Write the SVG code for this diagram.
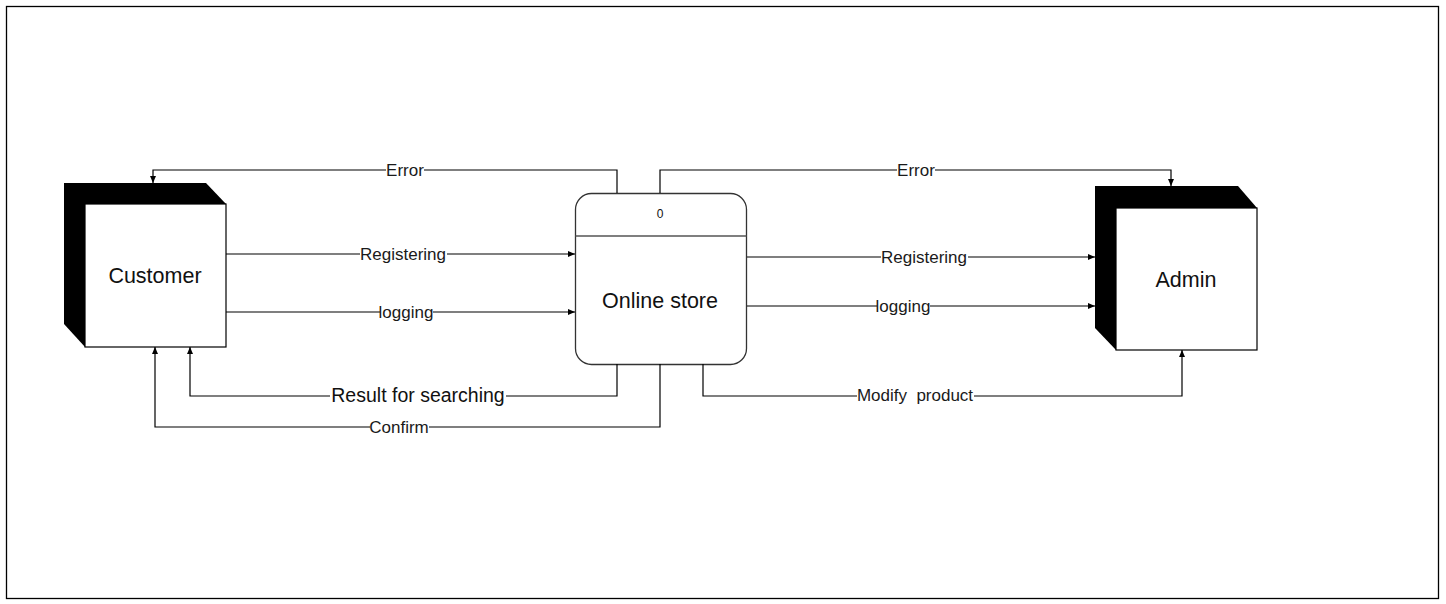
<svg xmlns="http://www.w3.org/2000/svg" width="1446" height="604" viewBox="0 0 1446 604">
<defs>
<marker id="arr" markerWidth="8" markerHeight="8" refX="7" refY="4" orient="auto" markerUnits="userSpaceOnUse">
<path d="M0,1 L7,4 L0,7 Z" fill="#000"/>
</marker>
<style>
.ln{fill:none;stroke:#000;stroke-width:1.2}
.lbl{font-family:"Liberation Sans",Arial,sans-serif;font-size:17px;fill:#1a1a1a;text-anchor:middle}
.big{font-family:"Liberation Sans",Arial,sans-serif;font-size:21.5px;fill:#111;text-anchor:middle}
.bg{fill:#fff}
</style>
</defs>
<rect x="0" y="0" width="1446" height="604" fill="#fff"/>
<rect x="6.5" y="6.5" width="1432" height="592" fill="#fff" stroke="#000" stroke-width="1.3"/>

<g id="customer">
<polygon points="64,183 206,183 226,204 226,347 85,347 64,324" fill="#000"/>
<rect x="85" y="204" width="141" height="143" fill="#fff" stroke="#000" stroke-width="1.2"/>
<text class="big" x="155" y="283">Customer</text>
</g>

<g id="online-store">
<rect x="575.5" y="193.5" width="171" height="171" rx="16" ry="16" fill="#fff" stroke="#333" stroke-width="1.3"/>
<line x1="575.5" y1="236" x2="746.5" y2="236" stroke="#555" stroke-width="1.5"/>
<text x="660" y="218" font-family="'Liberation Sans',Arial,sans-serif" font-size="12" fill="#111" text-anchor="middle">0</text>
<text class="big" x="660" y="308">Online store</text>
</g>

<g id="admin">
<polygon points="1095,186 1238,186 1257,208 1257,350 1116,350 1095,328" fill="#000"/>
<rect x="1116" y="208" width="141" height="142" fill="#fff" stroke="#000" stroke-width="1.2"/>
<text class="big" x="1186" y="287">Admin</text>
</g>

<g id="connectors">
<polyline class="ln" points="617,193 617,170 153,170 153,183" marker-end="url(#arr)"/>
<polyline class="ln" points="660,193 660,170 1171,170 1171,186" marker-end="url(#arr)"/>
<polyline class="ln" points="226,254 575,254" marker-end="url(#arr)"/>
<polyline class="ln" points="226,312 575,312" marker-end="url(#arr)"/>
<polyline class="ln" points="747,257 1095,257" marker-end="url(#arr)"/>
<polyline class="ln" points="747,306 1095,306" marker-end="url(#arr)"/>
<polyline class="ln" points="617,364 617,396 190,396 190,347" marker-end="url(#arr)"/>
<polyline class="ln" points="660,364 660,427 155,427 155,347" marker-end="url(#arr)"/>
<polyline class="ln" points="703,364 703,396 1182,396 1182,350" marker-end="url(#arr)"/>

<rect class="bg" x="386" y="161" width="38" height="18"/>
<text class="lbl" x="405" y="176">Error</text>
<rect class="bg" x="897" y="161" width="38" height="18"/>
<text class="lbl" x="916" y="176">Error</text>
<rect class="bg" x="360" y="245" width="87" height="18"/>
<text class="lbl" x="403" y="260">Registering</text>
<rect class="bg" x="380" y="303" width="53" height="18"/>
<text class="lbl" x="406" y="318">logging</text>
<rect class="bg" x="881" y="248" width="87" height="18"/>
<text class="lbl" x="924" y="263">Registering</text>
<rect class="bg" x="877" y="297" width="53" height="18"/>
<text class="lbl" x="903" y="312">logging</text>
<rect class="bg" x="330" y="385" width="176" height="22"/>
<text x="418" y="402" font-family="'Liberation Sans',Arial,sans-serif" font-size="19.5px" fill="#111" text-anchor="middle">Result for searching</text>
<rect class="bg" x="370" y="418" width="59" height="18"/>
<text class="lbl" x="399" y="433">Confirm</text>
<rect class="bg" x="857" y="387" width="117" height="18"/>
<text class="lbl" x="915" y="401" xml:space="preserve">Modify  product</text>
</g>
</svg>
